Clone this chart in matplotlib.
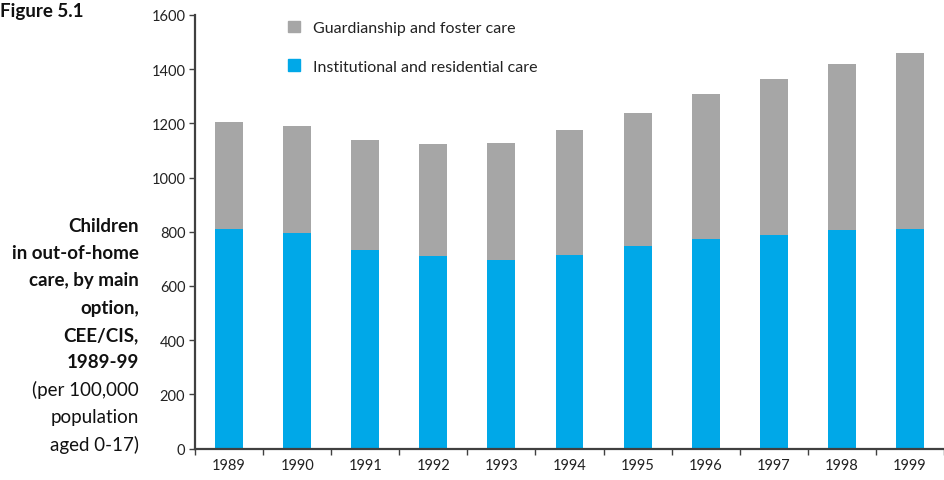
import numpy as np
import matplotlib
matplotlib.use("Agg")
import matplotlib.pyplot as plt
from matplotlib.patches import Patch

# データ
years = ["1989", "1990", "1991", "1992", "1993", "1994",
         "1995", "1996", "1997", "1998", "1999"]
institutional = [810, 795, 733, 711, 695, 714, 748, 773, 788, 807, 810]
total = [1204, 1189, 1138, 1124, 1127, 1175, 1238, 1308, 1364, 1419, 1458]
guardianship = [t - i for t, i in zip(total, institutional)]

blue = "#00A8E8"
grey = "#A6A6A6"
axis_col = "#404040"

plt.rcParams["font.family"] = ["Lato", "DejaVu Sans"]

fig = plt.figure(figsize=(9.44, 4.81), dpi=100)
ax = fig.add_axes([195 / 944, 1 - 449.5 / 481, 749 / 944, (449.5 - 16) / 481])

x = np.arange(len(years))
ax.bar(x, institutional, width=0.41, color=blue, zorder=2)
ax.bar(x, guardianship, width=0.41, bottom=institutional, color=grey, zorder=2)

ax.set_xlim(-0.5, 10.45)
ax.set_ylim(0, 1600)
ax.set_yticks(range(0, 1601, 200))

# 軸
for s in ["top", "right"]:
    ax.spines[s].set_visible(False)
for s in ["left", "bottom"]:
    ax.spines[s].set_color(axis_col)
    ax.spines[s].set_linewidth(1.6)
    ax.spines[s].set_zorder(3)

ax.set_xticks(x)
ax.set_xticklabels(years)
ax.set_xticks(np.arange(-0.5, 10.6, 1), minor=True)
ax.tick_params(axis="x", which="major", length=0, pad=7, labelsize=10.5, colors="#222222")
ax.tick_params(axis="x", which="minor", length=4, width=1, color=axis_col)
ax.tick_params(axis="y", length=4, width=1, color=axis_col, labelsize=10.5,
               labelcolor="#222222", pad=3)

# 凡例
handles = [Patch(color=grey, label="Guardianship and foster care"),
           Patch(color=blue, label="Institutional and residential care")]
ax.legend(handles=handles, loc="upper left", bbox_to_anchor=(0.105, 1.02),
          frameon=False, fontsize=11.5, handlelength=0.75, handleheight=0.75,
          handletextpad=0.8, labelspacing=1.5, labelcolor="#222222")

# テキスト
fig.text(0.0, 1 - 12 / 481, "Figure 5.1", fontsize=13.5, fontweight="bold",
         va="center", ha="left", color="#111111")

bold_lines = ["Children", "in out-of-home", "care, by main", "option,",
              "CEE/CIS,", "1989-99"]
plain_lines = ["(per 100,000", "population", "aged 0-17)"]
y0 = 226
step = 27.4
for k, line in enumerate(bold_lines + plain_lines):
    fig.text(139 / 944, 1 - (y0 + k * step) / 481, line,
             fontsize=13.5, fontweight="bold" if k < len(bold_lines) else "normal",
             ha="right", va="center", color="#111111")

fig.savefig("out.png", dpi=100)
